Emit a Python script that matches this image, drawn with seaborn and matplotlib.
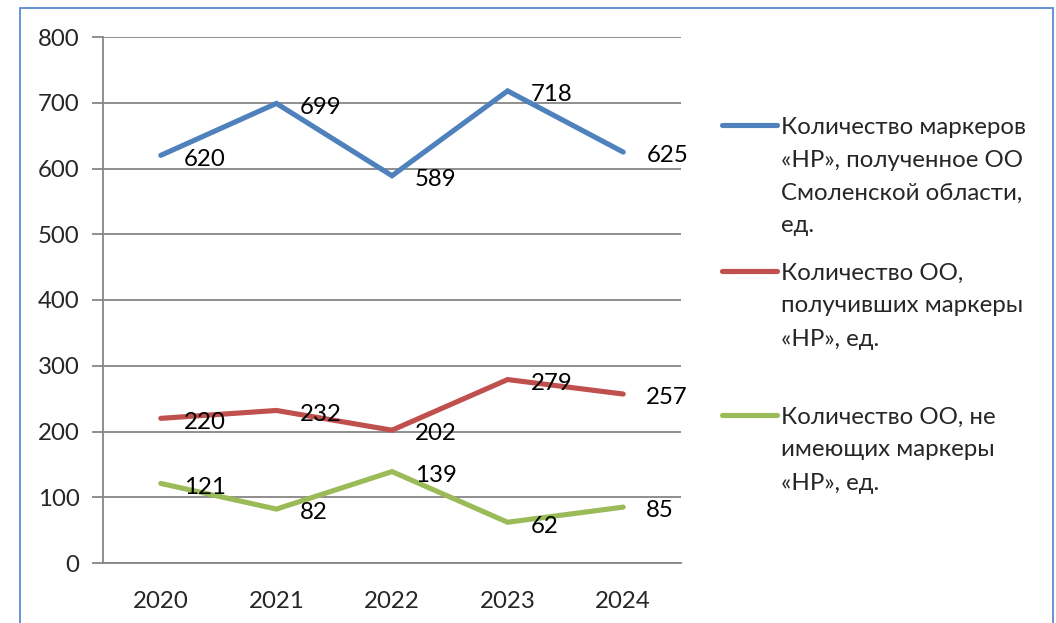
import matplotlib
matplotlib.use("Agg")
import matplotlib.pyplot as plt
from matplotlib.lines import Line2D
from matplotlib.patches import Rectangle
from matplotlib.ticker import FixedLocator, MultipleLocator
import seaborn as sns
import pandas as pd

years = ["2020", "2021", "2022", "2023", "2024"]
markers_total = [620, 699, 589, 718, 625]
oo_with_markers = [220, 232, 202, 279, 257]
oo_without_markers = [121, 82, 139, 62, 85]
series_names = [
    "Количество маркеров\n«НР», полученное ОО\nСмоленской области,\nед.",
    "Количество ОО,\nполучивших маркеры\n«НР», ед.",
    "Количество ОО, не\nимеющих маркеры\n«НР», ед.",
]
colors = ["#4F81BD", "#C0504D", "#9BBB59"]

rows = []
for name, vals in zip(series_names, [markers_total, oo_with_markers, oo_without_markers]):
    for i, (yr, v) in enumerate(zip(years, vals)):
        rows.append({"pos": i, "year": yr, "value": v, "series": name})
df = pd.DataFrame(rows)

sns.set_style("white")
plt.rcParams["font.family"] = ["Lato", "DejaVu Sans"]
FS = 17.3
W, H = 1056, 623
fig = plt.figure(figsize=(W / 100, H / 100), dpi=100)
ax = fig.add_axes([103 / W, 1 - 563 / H, (681 - 103) / W, (563 - 37) / H])

sns.lineplot(data=df, x="pos", y="value", hue="series", hue_order=series_names,
             palette=colors, linewidth=3.7, legend=False, ax=ax,
             solid_capstyle="round", solid_joinstyle="miter")

for vals in [markers_total, oo_with_markers, oo_without_markers]:
    for i, v in enumerate(vals):
        ax.annotate(str(v), (i, v), xytext=(16.6, -7.4), textcoords="offset points",
                    ha="left", va="baseline", fontsize=FS, color="black")

grid_c = "#868686"
ax.set_xlim(-0.5, 4.5)
ax.set_ylim(0, 800)
ax.yaxis.set_major_locator(MultipleLocator(100))
ax.grid(axis="y", color=grid_c, linewidth=1.3)
ax.grid(axis="x", visible=False)
ax.set_axisbelow(True)
ax.xaxis.set_major_locator(FixedLocator(range(len(years))))
ax.set_xticklabels(years)
ax.xaxis.set_minor_locator(FixedLocator([i - 0.5 for i in range(len(years) + 1)]))
ax.tick_params(axis="x", which="major", length=0, pad=20, labelsize=FS)
ax.tick_params(axis="x", which="minor", length=8, width=1.3, color=grid_c, direction="out")
ax.tick_params(axis="y", which="major", length=8, width=1.3, color=grid_c, direction="out",
               pad=9, labelsize=FS, left=True)
ax.set_xlabel("")
ax.set_ylabel("")
for s in ["top", "right"]:
    ax.spines[s].set_visible(False)
for s in ["left", "bottom"]:
    ax.spines[s].set_color(grid_c)
    ax.spines[s].set_linewidth(1.3)

# legend (manual, Excel-like layout)
first_y = [125, 271, 415]
line_gap = 33
for name, c, y0 in zip(series_names, colors, first_y):
    fig.add_artist(Line2D([722 / W, 777 / W], [1 - y0 / H, 1 - y0 / H], color=c,
                          linewidth=3.7, solid_capstyle="round", transform=fig.transFigure))
    for j, line in enumerate(name.split("\n")):
        yb = y0 + j * line_gap + 8.5
        fig.text(781 / W, 1 - yb / H, line, ha="left", va="baseline", fontsize=FS)

# chart frame
fig.add_artist(Rectangle((20 / W, -0.05), (1053 - 20) / W, 1 - 8 / H + 0.05,
                         transform=fig.transFigure, fill=False, edgecolor="#5B8BD5",
                         linewidth=1.3))

fig.savefig("out.png", dpi=100)
